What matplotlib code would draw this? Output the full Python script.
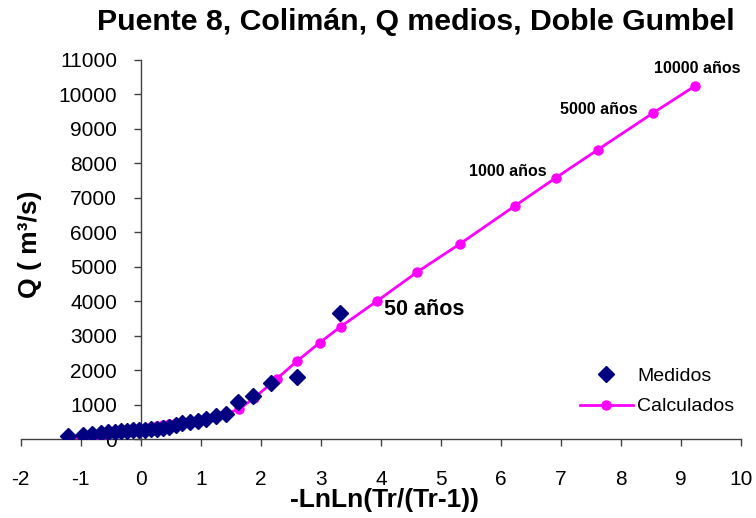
import matplotlib
matplotlib.use("Agg")
import matplotlib.pyplot as plt

plt.rcParams['font.family'] = ['Liberation Sans', 'DejaVu Sans']
plt.rcParams['axes.unicode_minus'] = False

# Measured floods (plotting positions)
x_med = [-1.204, -0.970, -0.804, -0.666, -0.544, -0.432, -0.327, -0.225, -0.127,
         -0.029, 0.068, 0.166, 0.265, 0.367, 0.471, 0.581, 0.695, 0.817, 0.947,
         1.089, 1.246, 1.422, 1.626, 1.870, 2.177, 2.602, 3.314]
q_med = [80, 110, 140, 170, 190, 205, 220, 235, 250,
         260, 270, 285, 300, 330, 360, 420, 450, 490, 530,
         580, 680, 740, 1060, 1240, 1620, 1790, 3650]

# Fitted double Gumbel
x_calc = [-1.204, -0.970, -0.804, -0.666, -0.544, -0.432, -0.327, -0.225, -0.127,
          -0.029, 0.068, 0.166, 0.265, 0.367, 0.471, 0.581, 0.695, 0.817, 0.947,
          1.089, 1.246, 1.422, 1.64, 1.88, 2.27, 2.61, 2.98, 3.33, 3.93, 4.61,
          5.32, 6.23, 6.92, 7.62, 8.54, 9.24]
q_calc = [20, 55, 90, 120, 150, 180, 210, 240, 270,
          300, 325, 350, 375, 400, 425, 450, 480, 510, 545,
          590, 650, 730, 870, 1180, 1755, 2270, 2794, 3260, 3996, 4851,
          5666, 6761, 7587, 8402, 9467, 10253]

# Return period labels
tr_labels = ['50 años', '1000 años', '5000 años', '10000 años']
tr_x = [4.72, 6.11, 7.64, 9.28]
tr_y = [3745, 7760, 9550, 10760]
tr_size = [15.5, 11.5, 11.5, 11.5]

fig = plt.figure(figsize=(7.56, 5.18), dpi=100)
ax = fig.add_axes([0.0274, 0.1525, 0.9527, 0.7317])

ax.plot(x_calc, q_calc, color='#FF00FF', lw=2, marker='o', ms=6.5,
        mec='#FF00FF', label='Calculados', zorder=3)
ax.plot(x_med, q_med, ls='none', marker='D', ms=8.5, color='#000080',
        mec='#000080', label='Medidos', zorder=4)

for lab, tx, ty, fs in zip(tr_labels, tr_x, tr_y, tr_size):
    ax.text(tx, ty, lab, ha='center', va='center', fontsize=fs,
            fontweight='bold', color='black')

ax.set_xlim(-2, 10)
ax.set_ylim(0, 11000)
ax.set_xticks(range(-2, 11))
ax.set_yticks(range(0, 11001, 1000))

ax.spines['left'].set_position(('data', 0))
ax.spines['bottom'].set_position(('data', 0))
ax.spines['top'].set_visible(False)
ax.spines['right'].set_visible(False)
for s in ('left', 'bottom'):
    ax.spines[s].set_color('#404040')
    ax.spines[s].set_linewidth(1)

ax.tick_params(axis='x', direction='out', length=5, width=1, color='#404040',
               labelsize=15, pad=17)
ax.tick_params(axis='y', direction='out', length=5, width=1, color='#404040',
               labelsize=15, pad=12)
ax.patch.set_visible(False)

handles, labels = ax.get_legend_handles_labels()
leg = fig.legend(handles[::-1], labels[::-1], loc='upper left',
                 bbox_to_anchor=(580 / 756, 1 - 367 / 518),
                 frameon=False, fontsize=14, handlelength=2.7,
                 handletextpad=0.25, labelspacing=0.68,
                 borderpad=0, borderaxespad=0)

fig.text(0.550, 0.958, 'Puente 8, Colimán, Q medios, Doble Gumbel',
         ha='center', va='center', fontsize=21.8, fontweight='bold')
fig.text(0.509, 0.035, '-LnLn(Tr/(Tr-1))', ha='center', va='center',
         fontsize=19, fontweight='bold')
fig.text(0.0397, 0.529, 'Q ( m³/s)', ha='center', va='center',
         rotation=90, fontsize=19, fontweight='bold')

fig.savefig('out.png', dpi=100)
